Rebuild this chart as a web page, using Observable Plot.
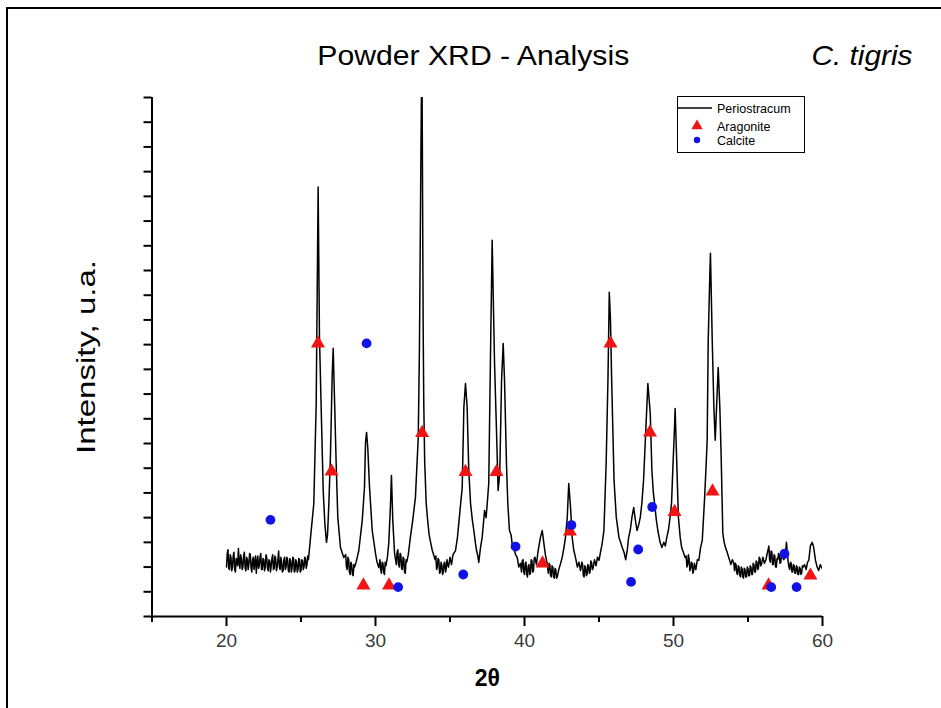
<!DOCTYPE html>
<html>
<head>
<meta charset="utf-8">
<script src="https://cdn.jsdelivr.net/npm/d3@7"></script>
<script src="https://cdn.jsdelivr.net/npm/@observablehq/plot@0.6"></script>
<style>
  html, body { margin: 0; padding: 0; background: #fff; }
  #wrap { position: relative; width: 941px; height: 708px; overflow: hidden; background: #fff; }
  #frame { position: absolute; left: 6px; top: 7px; width: 960px; height: 720px;
           border-left: 2px solid #000; border-top: 2px solid #000; pointer-events: none; }
  #legend { position: absolute; left: 677px; top: 96px; }
</style>
</head>
<body>
<div id="wrap"><div id="frame"></div></div>
<script>
// ---- data (2θ in degrees, intensity in arbitrary units) ----
const periostracum = [
[20.00,2.0],[20.05,2.55],[20.10,2.7],[20.15,1.95],[20.20,1.9],[20.25,2.5],[20.30,2.4],[20.35,1.85],[20.40,2.0],[20.45,2.45],
[20.50,2.6],[20.55,1.9],[20.60,1.8],[20.65,2.35],[20.70,2.3],[20.75,2.05],[20.80,2.75],[20.85,2.2],[20.90,1.95],[20.95,2.5],
[21.00,2.35],[21.05,1.9],[21.10,2.0],[21.15,2.45],[21.20,2.6],[21.25,1.95],[21.30,1.85],[21.35,2.4],[21.40,2.3],[21.45,1.9],
[21.50,2.1],[21.55,2.55],[21.60,2.5],[21.65,1.95],[21.70,1.8],[21.75,2.3],[21.80,2.4],[21.85,1.9],[21.90,2.2],[21.95,2.45],
[22.00,1.75],[22.05,2.2],[22.10,2.45],[22.15,1.95],[22.20,2.05],[22.25,2.4],[22.30,2.55],[22.35,1.9],[22.40,1.9],[22.45,2.35],
[22.50,2.3],[22.55,1.85],[22.60,2.0],[22.65,2.5],[22.70,2.4],[22.75,1.95],[22.80,1.85],[22.85,2.3],[22.90,2.25],[22.95,1.8],
[23.00,2.05],[23.05,2.35],[23.10,2.5],[23.15,1.9],[23.20,1.95],[23.25,2.45],[23.30,2.35],[23.35,1.85],[23.40,2.0],[23.45,2.3],
[23.50,2.65],[23.55,2.0],[23.60,1.9],[23.65,2.4],[23.70,2.2],[23.75,1.8],[23.80,1.85],[23.85,2.3],[23.90,2.4],[23.95,1.9],
[24.00,2.0],[24.05,2.4],[24.10,2.3],[24.15,1.85],[24.20,1.8],[24.25,2.35],[24.30,2.25],[24.35,1.8],[24.40,1.95],[24.45,2.4],
[24.50,2.35],[24.55,1.8],[24.60,1.85],[24.65,2.3],[24.70,2.2],[24.75,1.8],[24.80,1.9],[24.85,2.35],[24.90,2.3],[24.95,1.8],
[25.00,1.85],[25.05,2.3],[25.10,2.25],[25.15,1.9],[25.20,2.0],[25.25,2.4],[25.30,2.35],[25.35,1.95],[25.40,2.1],[25.45,2.45],
[25.5,2.3],[25.64,3.2],[25.86,4.57],[26.02,8.62],[26.15,17.38],[26.24,11.3],[26.38,7.81],[26.49,5.1],[26.6,3.77],[26.71,3.0],
[26.78,3.3],[26.87,4.57],[26.98,6.6],[27.09,9.68],[27.16,10.85],[27.27,8.34],[27.36,6.19],[27.47,4.01],[27.65,2.79],[27.87,2.39],
[28.0,2.5],[28.05,2.0],[28.1,1.9],[28.15,2.4],[28.2,2.3],[28.25,1.8],[28.3,1.7],[28.35,2.2],[28.4,2.1],[28.45,1.7],[28.5,1.65],[28.55,2.1],[28.6,2.0],[28.7,2.2],
[28.88,2.67],[29.11,3.89],[29.26,5.22],[29.33,7.04],[29.4,7.45],[29.48,6.84],[29.6,5.22],[29.78,3.48],[30.0,2.55],[30.1,2.2],[30.22,1.98],
[30.3,2.3],[30.35,1.9],[30.4,1.75],[30.45,2.2],[30.5,2.15],[30.55,1.8],[30.6,1.7],[30.65,2.2],[30.7,2.05],[30.8,2.4],
[30.89,2.96],[31.01,4.57],[31.07,5.71],[31.16,3.89],[31.28,2.55],
[31.4,2.1],[31.45,2.6],[31.5,2.7],[31.55,2.1],[31.6,2.0],[31.65,2.55],[31.7,2.5],[31.75,1.95],[31.8,1.9],[31.85,2.4],[31.9,2.35],[31.95,1.8],[32.0,1.75],[32.05,2.3],[32.1,2.2],[32.2,2.5],
[32.34,3.2],[32.5,3.9],[32.68,4.82],[32.87,7.25],[32.95,10.89],[33.04,18.06],[33.08,21],[33.13,21],[33.2,11.6],[33.24,8.62],[33.3,6.3],[33.4,4.6],[33.5,3.9],[33.6,3.3],[33.7,3.0],[33.8,2.7],[33.9,2.5],[34.0,2.3],
[34.05,2.45],[34.1,1.9],[34.15,2.0],[34.2,2.35],[34.25,2.3],[34.3,1.75],[34.35,1.8],[34.4,2.2],[34.45,2.1],[34.5,1.7],[34.55,1.8],[34.6,2.15],[34.65,2.2],[34.7,1.8],[34.75,1.95],[34.8,2.3],[34.85,2.1],[34.9,2.0],[35.0,2.4],[35.1,2.1],[35.2,2.5],
[35.37,2.67],[35.5,3.2],[35.59,3.77],[35.72,4.6],[35.82,5.22],[35.93,8.46],[36.04,9.43],[36.15,8.46],[36.26,5.91],[36.38,4.57],[36.5,3.9],[36.6,3.48],[36.7,3.0],[36.78,2.67],[36.85,2.5],[36.93,2.19],
[37.05,2.8],[37.16,3.2],[37.32,4.29],[37.42,4.0],[37.5,4.57],[37.6,5.38],[37.72,10.65],[37.83,15.22],[37.99,10.24],[38.12,7.53],[38.23,5.1],[38.34,5.79],[38.46,9.55],[38.57,11.05],[38.66,9.55],[38.79,6.19],[38.88,4.57],[38.99,3.48],[39.1,3.3],[39.18,2.9],[39.28,2.79],[39.4,2.5],[39.51,2.39],[39.62,2.0],[39.73,2.15],
[39.8,1.8],[39.85,2.25],[39.9,2.3],[39.95,1.8],[40.0,1.7],[40.05,2.15],[40.1,2.2],[40.15,1.7],[40.2,1.6],[40.25,2.05],[40.3,2.1],[40.35,1.7],[40.4,1.75],[40.45,2.3],[40.5,2.25],[40.55,1.8],[40.6,1.85],[40.65,2.35],[40.7,2.4],[40.8,2.1],[40.9,2.6],
[41.07,3.2],[41.19,3.48],[41.3,2.96],[41.4,2.5],[41.52,2.15],
[41.6,1.75],[41.65,2.15],[41.7,2.1],[41.75,1.65],[41.8,1.6],[41.85,2.05],[41.9,2.0],[41.95,1.6],[42.0,1.55],[42.05,1.95],[42.1,1.9],[42.15,1.55],[42.2,1.6],[42.3,1.9],[42.4,2.1],
[42.53,2.39],[42.65,2.8],[42.75,3.2],[42.87,4.01],[42.97,5.38],[43.09,4.41],[43.2,3.2],[43.3,2.7],[43.42,2.39],[43.55,2.0],[43.65,2.2],[43.76,1.86],
[43.85,2.2],[43.9,2.1],[43.95,1.65],[44.0,1.6],[44.05,2.05],[44.1,2.0],[44.15,1.65],[44.2,1.7],[44.25,2.1],[44.3,2.05],[44.35,1.75],[44.4,1.8],[44.45,2.25],[44.5,2.2],[44.55,1.9],[44.6,1.95],[44.7,2.3],[44.8,2.05],[44.9,2.4],[45.0,2.27],[45.1,2.6],[45.2,2.9],
[45.33,3.48],[45.48,6.19],[45.6,9.55],[45.69,13.12],[45.77,12.0],[45.85,9.55],[46.01,5.51],[46.16,4.01],[46.34,3.2],[46.45,3.0],[46.56,2.79],[46.68,2.6],[46.79,2.3],
[46.9,2.7],[46.99,3.2],[47.1,3.5],[47.21,4.01],[47.33,4.41],[47.44,3.9],[47.55,3.48],[47.66,3.7],[47.77,4.01],[47.88,4.6],[47.99,5.51],[48.14,7.53],[48.28,9.43],[48.44,8.22],[48.55,5.91],[48.65,5.0],[48.73,4.57],[48.85,3.9],[48.95,3.48],[49.1,3.0],[49.22,2.79],
[49.35,3.0],[49.45,2.85],[49.55,3.2],[49.66,3.5],[49.77,4.01],[49.87,4.6],[49.95,5.91],[50.06,7.53],[50.11,8.42],[50.22,6.19],[50.33,4.01],[50.45,3.2],[50.55,2.79],[50.66,2.6],[50.78,2.39],
[50.85,2.45],[50.9,2.0],[50.95,2.1],[51.0,2.5],[51.05,2.3],[51.1,1.85],[51.15,1.95],[51.2,2.2],[51.25,2.15],[51.3,1.75],[51.35,1.85],[51.4,2.15],[51.5,1.9],[51.6,2.3],
[51.7,2.27],[51.82,2.8],[51.93,3.08],[52.08,4.7],[52.18,6.0],[52.26,7.13],[52.33,11.17],[52.44,13.89],[52.48,14.7],[52.6,11.17],[52.71,8.46],[52.8,7.13],[52.89,8.46],[53.0,10.08],[53.11,8.46],[53.2,6.44],[53.31,3.36],[53.4,3.0],[53.49,2.79],[53.6,2.6],[53.71,2.39],[53.85,2.1],[53.95,2.3],[54.05,2.15],
[54.1,1.85],[54.15,2.15],[54.2,2.1],[54.25,1.75],[54.3,1.7],[54.35,2.05],[54.4,2.0],[54.45,1.65],[54.5,1.6],[54.55,2.0],[54.6,1.95],[54.65,1.6],[54.7,1.55],[54.75,1.95],[54.8,1.9],[54.85,1.6],[54.9,1.6],[54.95,2.0],[55.0,1.95],[55.05,1.65],[55.1,1.65],[55.15,2.05],[55.2,2.0],[55.25,1.7],[55.3,1.7],[55.35,2.15],[55.4,2.1],[55.45,1.8],[55.5,1.8],[55.55,2.25],[55.6,2.2],[55.65,1.9],[55.7,1.95],[55.75,2.4],[55.8,2.35],[55.85,2.05],[55.9,2.1],[56.0,2.4],[56.1,2.15],[56.2,2.3],
[56.29,2.55],[56.4,2.85],[56.45,2.3],[56.5,2.2],[56.55,2.65],[56.6,2.6],[56.65,2.1],[56.7,2.1],[56.75,2.5],[56.8,2.45],[56.85,2.0],[56.9,2.0],[56.95,2.35],[57.0,2.3],[57.05,2.55],[57.1,2.5],[57.15,2.15],[57.2,2.2],[57.25,2.5],[57.3,2.45],[57.4,2.3],[57.5,2.4],[57.58,3.0],[57.65,2.5],[57.7,2.2],[57.75,2.0],[57.8,1.9],[57.85,2.2],[57.9,2.15],[57.95,1.8],[58.0,1.8],[58.05,2.1],[58.1,2.05],[58.15,1.75],[58.2,1.75],[58.25,2.05],[58.3,2.0],[58.35,1.7],[58.4,1.7],[58.45,2.0],[58.5,1.95],[58.55,1.7],[58.6,1.75],[58.65,2.05],[58.7,2.0],[58.8,2.1],[58.9,1.9],[59.0,2.2],
[59.08,2.27],[59.19,2.87],[59.31,3.0],[59.41,2.79],[59.53,2.27],[59.64,2.0],[59.74,1.86],[59.85,2.1],[59.98,1.94]
];

const aragonite = [
[26.14,11.05],[27.05,5.87],[29.19,1.26],[30.91,1.26],[33.13,7.43],[36.04,5.85],[38.12,5.85],[41.21,2.15],
[43.05,3.44],[45.77,11.05],[48.42,7.45],[50.07,4.23],[52.62,5.06],[56.38,1.26],[59.19,1.66]
];

const calcite = [
[22.95,3.91],[29.40,11.05],[31.52,1.19],[35.89,1.70],[39.40,2.83],[43.15,3.70],[47.15,1.40],[47.63,2.71],
[48.57,4.43],[56.56,1.19],[57.45,2.54],[58.26,1.19]
];

const yTicks = [0,1,2,3,4,5,6,7,8,9,10,11,12,13,14,15,16,17,18,19,20,21];
const xMajorTicks = [20,30,40,50,60];
const xMinorTicks = [15,25,35,45,55];
const legendItems = ["Periostracum","Aragonite","Calcite"];

const RED = "#f01414";
const BLUE = "#1212e6";
const FONT = "'Liberation Sans', Arial, Helvetica, sans-serif";

const chart = Plot.plot({
  width: 941,
  height: 708,
  marginLeft: 151.5,
  marginRight: 119,
  marginTop: 97,
  marginBottom: 92,
  style: { fontFamily: FONT, background: "transparent", color: "#000", overflow: "visible" },
  x: { domain: [15, 60] },
  y: { domain: [0, 21] },
  marks: [
    Plot.axisY({ ticks: yTicks, tickSize: 8, tickFormat: () => "", label: null, strokeWidth: 2 }),
    Plot.axisX({ ticks: xMinorTicks, tickSize: 6, tickFormat: () => "", label: null, strokeWidth: 2 }),
    Plot.axisX({ ticks: xMajorTicks, tickSize: 10, tickPadding: 7, fontSize: 19, fill: "#3a3a3a", label: null, strokeWidth: 2 }),
    Plot.ruleX([15], { stroke: "#000", strokeWidth: 2 }),
    Plot.ruleY([0], { stroke: "#000", strokeWidth: 2 }),
    Plot.line(periostracum, { x: d => d[0], y: d => d[1], stroke: "#000", strokeWidth: 1.5, clip: true }),
    Plot.dot(aragonite, { x: d => d[0], y: d => d[1], symbol: "triangle", r: 5.2, fill: RED, stroke: "none" }),
    Plot.dot(calcite, { x: d => d[0], y: d => d[1], symbol: "circle", r: 4.9, fill: BLUE, stroke: "none" }),
    Plot.text(["Powder XRD - Analysis"], { frameAnchor: "top", dx: -14, dy: -33, lineAnchor: "bottom", fontSize: 28, fill: "#000" }),
    Plot.text(["C. tigris"], { frameAnchor: "top-right", dx: 90, dy: -33, lineAnchor: "bottom", textAnchor: "end", fontSize: 28, fontStyle: "italic", fill: "#000" }),
    Plot.text(["2θ"], { frameAnchor: "bottom", dy: 69, fontSize: 23, fontWeight: "bold", fill: "#000" }),
    Plot.text(["Intensity, u.a."], { frameAnchor: "left", dx: -65, rotate: -90, textAnchor: "middle", fontSize: 25, fill: "#000" })
  ]
});

// stretch the titles to the widths they have in the reference
const stretch = { "Powder XRD - Analysis": 312, "C. tigris": 101, "Intensity, u.a.": 194 };
d3.select(chart).selectAll("text").each(function () {
  const w = stretch[this.textContent];
  if (w) d3.select(this).attr("textLength", w).attr("lengthAdjust", "spacingAndGlyphs");
});

document.getElementById("wrap").insertBefore(chart, document.getElementById("frame"));
chart.style.position = "absolute";
chart.style.left = "0px";
chart.style.top = "0px";

// ---- legend box ----
const lg = d3.select("#wrap").append("svg")
  .attr("id", "legend").attr("width", 128).attr("height", 58)
  .style("font-family", FONT);
lg.append("rect").attr("x", 0.5).attr("y", 0.5).attr("width", 127).attr("height", 56)
  .attr("fill", "#fff").attr("stroke", "#000").attr("stroke-width", 1);
const rowY = [12, 30, 44];
legendItems.forEach((name, i) => {
  const g = lg.append("g").attr("transform", `translate(0,${rowY[i]})`);
  if (i === 0) g.append("line").attr("x1", 0).attr("x2", 35).attr("stroke", "#000").attr("stroke-width", 1.3);
  if (i === 1) g.append("path").attr("transform", "translate(20,0)").attr("d", d3.symbol(d3.symbolTriangle, 55)()).attr("fill", RED);
  if (i === 2) g.append("circle").attr("cx", 20).attr("r", 3.2).attr("fill", BLUE);
  g.append("text").attr("x", 40).attr("dy", "0.36em").attr("font-size", 12.5).text(name);
});
</script>
</body>
</html>
